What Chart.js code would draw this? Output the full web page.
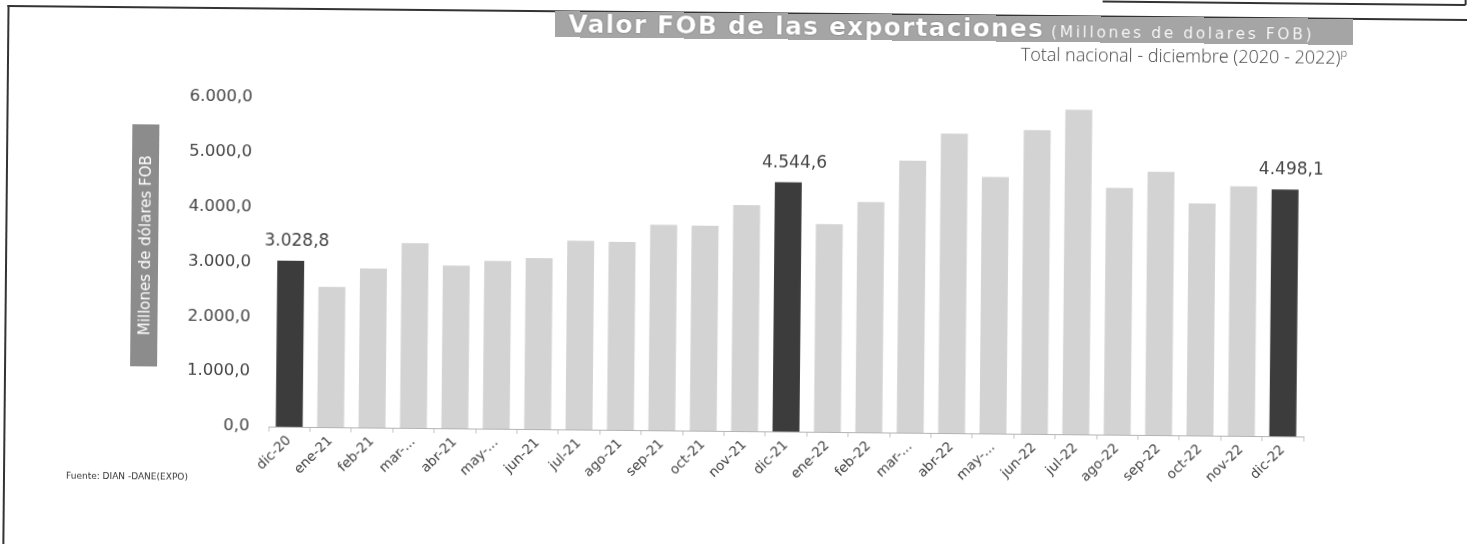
<!DOCTYPE html>
<html>
<head>
<meta charset="utf-8">
<script src="https://cdn.jsdelivr.net/npm/chart.js@4/dist/chart.umd.min.js"></script>
<style>
  html, body { margin:0; padding:0; background:#fff; width:1467px; height:544px; overflow:hidden; }
  #wrap { position:relative; width:1467px; height:544px; transform:rotate(0.55deg); transform-origin:733.5px 272px; }
  #c { position:absolute; left:0; top:0; }
  .ln { position:absolute; background:#333; }
  #banner { position:absolute; left:553px; top:13px; width:798px; height:26px; background:#a5a5a5;
            white-space:nowrap; font-family:"DejaVu Sans", sans-serif; color:#fff; line-height:26px; overflow:hidden; }
  #banner .big { font-weight:bold; font-size:25px; margin-left:13px; letter-spacing:1.2px;
                 text-shadow:0 0 1px #555, 0 0 1px #555; }
  #banner .small { font-size:15.5px; margin-left:7px; letter-spacing:2.6px; text-shadow:0 0 1px #777; }
  #subtitle { position:absolute; right:122px; top:39px; font-family:"Open Sans", sans-serif; font-weight:300;
              font-size:18px; color:#444; white-space:nowrap; }
  #subtitle sup { font-size:11px; }
  #ytitle { position:absolute; left:131px; top:130px; width:27px; height:242px; background:#8c8c8c;
            display:flex; align-items:center; justify-content:center; }
  #ytitle span { writing-mode:vertical-rl; transform:rotate(180deg); color:#fff; font-family:"DejaVu Sans", sans-serif;
                 font-size:15px; white-space:nowrap; }
  #source { position:absolute; left:68px; top:477px; font-family:"DejaVu Sans", sans-serif; font-size:9px;
            color:#333; white-space:nowrap; }
</style>
</head>
<body>
<div id="wrap">
  <canvas id="c" width="1467" height="544"></canvas>
  <div class="ln" style="left:5px; top:12px; width:1470px; height:1.5px;"></div>
  <div class="ln" style="left:5px; top:12px; width:1.5px; height:540px;"></div>
  <div class="ln" style="left:1100px; top:-3px; width:363px; height:1.5px;"></div>
  <div class="ln" style="left:1462px; top:-8px; width:1.5px; height:6px;"></div>
  <div id="banner"><span class="big">Valor FOB de las exportaciones</span><span class="small">(Millones de dolares FOB)</span></div>
  <div id="subtitle">Total nacional - diciembre (2020 - 2022)<sup>p</sup></div>
  <div id="ytitle"><span>Millones de dólares FOB</span></div>
  <div id="source">Fuente: DIAN -DANE(EXPO)</div>
</div>
<script>
// ---- data ----
const categories = ['dic-20','ene-21','feb-21','mar-...','abr-21','may-...','jun-21','jul-21','ago-21','sep-21','oct-21','nov-21',
                    'dic-21','ene-22','feb-22','mar-...','abr-22','may-...','jun-22','jul-22','ago-22','sep-22','oct-22','nov-22','dic-22'];
const exportValues = [3028.8, 2560, 2900, 3370, 2970, 3060, 3120, 3440, 3430, 3750, 3740, 4120,
                      4544.6, 3790, 4200, 4960, 5460, 4680, 5540, 5920, 4500, 4800, 4230, 4550, 4498.1];
const highlightIdx = [0, 12, 24];
const yTickValues = [0, 1000, 2000, 3000, 4000, 5000, 6000];

function fmt(v) {
  const parts = v.toFixed(1).split('.');
  return parts[0].replace(/\B(?=(\d{3})+(?!\d))/g, '.') + ',' + parts[1];
}

const barColors = exportValues.map((v, i) => highlightIdx.includes(i) ? '#3c3c3c' : '#d3d3d3');

const valueLabels = {
  id: 'valueLabels',
  afterDatasetsDraw(chart) {
    const meta = chart.getDatasetMeta(0);
    const ctx = chart.ctx;
    ctx.save();
    ctx.font = '17px "DejaVu Sans"';
    ctx.fillStyle = '#444';
    ctx.textAlign = 'center';
    ctx.textBaseline = 'bottom';
    highlightIdx.forEach(i => {
      const el = meta.data[i];
      ctx.fillText(fmt(exportValues[i]), el.x + 6, el.y - 11);
    });
    ctx.restore();
  }
};

new Chart(document.getElementById('c'), {
  type: 'bar',
  data: {
    labels: categories,
    datasets: [{
      data: exportValues,
      backgroundColor: barColors,
      borderWidth: 0,
      barPercentage: 0.65,
      categoryPercentage: 1.0
    }]
  },
  options: {
    responsive: false,
    animation: false,
    devicePixelRatio: 1,
    layout: { padding: { left: 0, top: 102, right: 162, bottom: 0 } },
    plugins: { legend: { display: false }, tooltip: { enabled: false }, title: { display: false } },
    scales: {
      x: {
        grid: { display: true, drawOnChartArea: false, drawTicks: true, tickLength: 5, color: '#c4c4c4', offset: true },
        border: { display: true, color: '#b4b4b4', dash: [2, 2] },
        ticks: { minRotation: 45, maxRotation: 45, autoSkip: false, padding: 1,
                 font: { family: 'DejaVu Sans', size: 13.5 }, color: '#444' },
        afterFit(scale) { scale.height = 113; }
      },
      y: {
        min: 0, max: 6000,
        afterBuildTicks(scale) { scale.ticks = yTickValues.map(v => ({ value: v })); },
        grid: { display: false, drawTicks: false },
        border: { display: false },
        ticks: { padding: 19, font: { family: 'DejaVu Sans', size: 16.5 }, color: '#444',
                 callback: (v) => fmt(v) },
        afterFit(scale) { scale.width = 270; }
      }
    }
  },
  plugins: [valueLabels]
});
</script>
</body>
</html>
